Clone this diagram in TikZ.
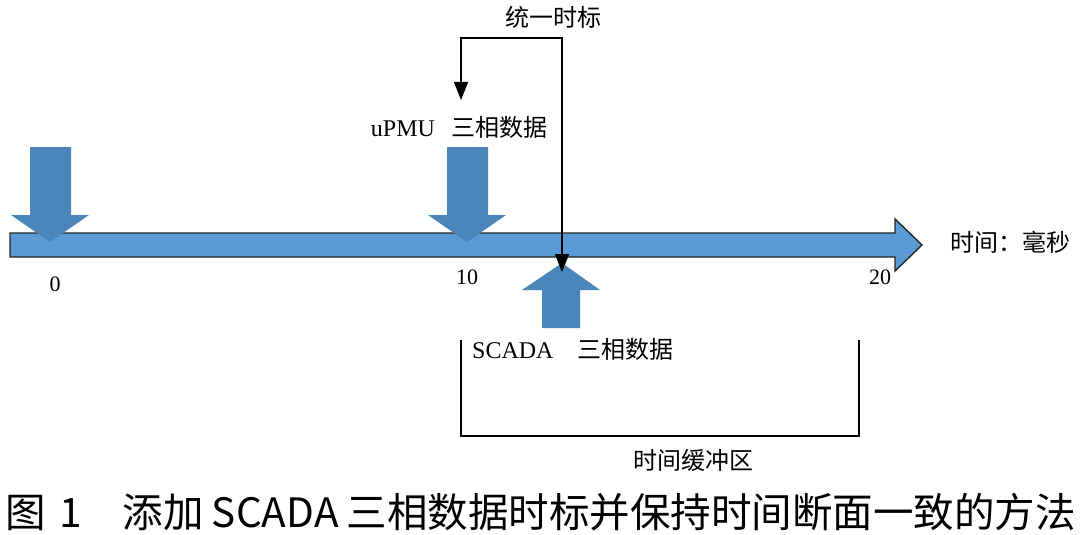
\documentclass[tikz,border=0pt]{standalone}
\usepackage{fontspec}
\setmainfont{Liberation Serif}
\newfontfamily\cjk{Noto Sans CJK SC}
\usetikzlibrary{arrows.meta,positioning,calc}
\definecolor{AxisBlue}{HTML}{5B9BD5}
\definecolor{DataBlue}{HTML}{4A86BA}

\begin{document}
\begin{tikzpicture}[x=1pt,y=-1pt,
    axis/.style={fill=AxisBlue,draw=black!85,line width=1.4pt,line join=miter},
    datarrow/.style={fill=DataBlue},
    lbl/.style={inner sep=0pt,font=\fontsize{24}{28}\selectfont},
    tick/.style={inner sep=0pt,font=\fontsize{22}{26}\selectfont},
    link/.style={line width=1.5pt,{Triangle[length=18pt,width=14pt]}-{Triangle[length=18pt,width=14pt]}},
    bracket/.style={line width=1.6pt}
  ]
    \useasboundingbox (0,0) rectangle (1080,535);

    % time axis
    \draw[axis] (10,233) -- (895,233) -- (895,219) -- (922,245) -- (895,271)
      -- (895,257) -- (10,257) -- cycle;
    \node[lbl,anchor=west] (unit) at (950,242) {\cjk 时间：毫秒};
    \node[tick] (t0) at (55,284) {0};
    \node[tick] (t10) at (467,277) {10};
    \node[tick] (t20) at (880,277) {20};

    % uPMU samples
    \foreach \x in {50,467}
      \fill[datarrow,xshift=\x pt] (-20,147) -- (21,147) -- (21,215) -- (39,215)
        -- (0,242) -- (-39,215) -- (-20,215) -- cycle;
    \node[lbl,anchor=east] (upmu) at (548,127) {uPMU\hspace{0.7em}{\cjk 三相数据}};

    % SCADA sample
    \fill[datarrow] (542,328) -- (580,328) -- (580,290) -- (600,290) -- (562,263)
      -- (522,290) -- (542,290) -- cycle;
    \node[lbl,anchor=west] (scada) at (472,349) {SCADA\quad{\cjk 三相数据}};

    % common time stamp
    \node[lbl] (synclbl) at (553,17) {\cjk 统一时标};
    \coordinate (scadatip) at (562,272);
    \coordinate (upmutip) at (461,100);
    \draw[link] (scadatip) -- (scadatip |- 0,38) -| (upmutip);

    % buffer
    \coordinate (bufl) at (461,340);
    \coordinate (bufr) at (859,340);
    \draw[bracket] (bufl) |- (bufr |- 0,436) -- (bufr);
    \node[lbl] (buffer) at (693,460) {\cjk 时间缓冲区};

    \node[inner sep=0pt,anchor=west,font=\cjk\fontsize{40.5}{44}\selectfont] (caption) at (5,512)
      {图\hspace{0.35em}1\hspace{1em}添加\hspace{0.2em}SCADA\hspace{0.2em}三相数据时标并保持时间断面一致的方法};
  \end{tikzpicture}
\end{document}
